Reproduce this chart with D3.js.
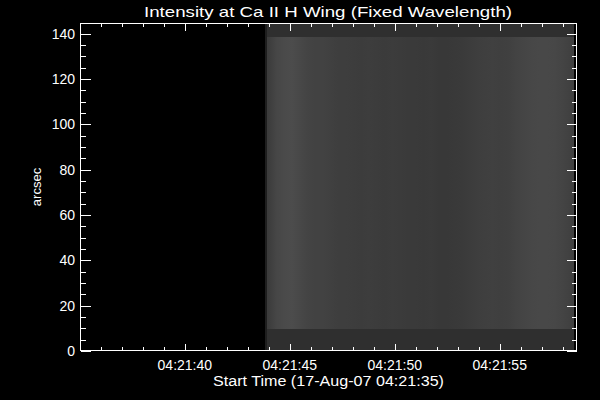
<!DOCTYPE html>
<html>
<head>
<meta charset="utf-8">
<script src="https://cdn.jsdelivr.net/npm/d3@7"></script>
<style>
  html, body { margin: 0; padding: 0; background: #000; }
  svg { display: block; }
  text { font-family: "Liberation Sans", "DejaVu Sans", sans-serif; fill: #fff; }
</style>
</head>
<body>
<svg id="chart" width="600" height="400"></svg>
<script>
// ---- data ----
const title = "Intensity at Ca II H Wing (Fixed Wavelength)";
const xTitle = "Start Time (17-Aug-07 04:21:35)";
const yTitle = "arcsec";
const startTime = "2007-08-17T04:21:35Z";
const xRangeSec = [0.03, 23.66];      // axis extent, seconds after start
const yRange = [0, 144.7];             // arcsec axis extent
const imageSec = [8.80, 23.56];        // time span covered by the raster
const rowEdges = [0, 9.6, 138.5, 144.7];  // arcsec: bottom strip, slit band, top strip
const stripLevel = 47;                 // gray level of the strips outside the slit
// gray level per exposure column inside the slit band
const columnLevels = [60, 70, 74, 76, 72, 68, 66, 66, 64, 62,
                      62, 61, 60, 61, 60, 59, 60, 59, 58, 58,
                      57, 58, 56, 56, 57, 58, 60, 62, 63, 64,
                      63, 64, 67, 69, 71, 72, 72, 71, 68, 64];
const yMajorTicks = [0, 20, 40, 60, 80, 100, 120, 140];
const yMinorStep = 5;

// ---- layout ----
const svg = d3.select("#chart");
const mLeft = 80.5, mRight = 576.5, mTop = 23.5, mBottom = 350.5;
svg.append("rect").attr("width", 600).attr("height", 400).attr("fill", "#000");

const t0 = new Date(startTime);
const sec = s => new Date(t0.getTime() + s * 1000);
const x = d3.scaleUtc().domain([sec(xRangeSec[0]), sec(xRangeSec[1])]).range([mLeft, mRight]);
const y = d3.scaleLinear().domain(yRange).range([mBottom + 0.5, mTop - 0.5]);
const gray = d3.scaleLinear().domain([0, 255]).range(["#000", "#fff"]);

// ---- raster ----
const colBand = d3.scaleBand().domain(d3.range(columnLevels.length))
  .range([x(sec(imageSec[0])), x(sec(imageSec[1]))]);
const [imgX0, imgX1] = colBand.range();
const img = svg.append("g").attr("shape-rendering", "crispEdges");

// smooth shading between exposure columns
const grad = svg.append("defs").append("linearGradient")
  .attr("id", "band").attr("gradientUnits", "userSpaceOnUse")
  .attr("x1", imgX0).attr("x2", imgX1).attr("y1", 0).attr("y2", 0);
grad.selectAll("stop").data(columnLevels).join("stop")
  .attr("offset", (d, i) => (colBand(i) + colBand.bandwidth() / 2 - imgX0) / (imgX1 - imgX0))
  .attr("stop-color", d => gray(d));

[[rowEdges[0], rowEdges[1]], [rowEdges[2], rowEdges[3]]].forEach(([a, b]) => {
  img.append("rect")
    .attr("x", imgX0).attr("width", imgX1 - imgX0)
    .attr("y", y(b)).attr("height", y(a) - y(b))
    .attr("fill", gray(stripLevel));
});
img.append("rect")
  .attr("x", imgX0).attr("width", imgX1 - imgX0)
  .attr("y", y(rowEdges[2]))
  .attr("height", y(rowEdges[1]) - y(rowEdges[2]))
  .attr("fill", "url(#band)");
// darker leading edge of the raster
img.append("rect")
  .attr("x", imgX0).attr("width", 2)
  .attr("y", y(rowEdges[3])).attr("height", y(rowEdges[0]) - y(rowEdges[3]))
  .attr("fill", gray(30));

// ---- axes frame ----
const axes = svg.append("g").attr("stroke", "#fff").attr("stroke-width", 1).attr("fill", "none")
  .attr("shape-rendering", "crispEdges");
axes.append("rect").attr("x", mLeft).attr("y", mTop).attr("width", mRight - mLeft).attr("height", mBottom - mTop);

const xMajor = x.ticks(d3.utcSecond.every(5));
const xMinor = x.ticks(d3.utcSecond.every(1));
xMinor.forEach(d => {
  const px = Math.round(x(d)) + 0.5;
  const len = xMajor.some(m => +m === +d) ? 7 : 3.5;
  axes.append("line").attr("x1", px).attr("x2", px).attr("y1", mBottom).attr("y2", mBottom - len);
  axes.append("line").attr("x1", px).attr("x2", px).attr("y1", mTop).attr("y2", mTop + len);
});
const yMinor = d3.range(yRange[0], yRange[1], yMinorStep);
yMinor.forEach(v => {
  const py = Math.round(y(v)) + 0.5;
  const len = yMajorTicks.includes(v) ? 10 : 5;
  axes.append("line").attr("y1", py).attr("y2", py).attr("x1", mLeft).attr("x2", mLeft + len);
  axes.append("line").attr("y1", py).attr("y2", py).attr("x1", mRight).attr("x2", mRight - len);
});

// ---- labels ----
const fmt = d3.utcFormat("%H:%M:%S");
svg.append("g").selectAll("text").data(xMajor).join("text")
  .attr("x", d => x(d)).attr("y", 370)
  .attr("text-anchor", "middle").attr("font-size", 14)
  .text(d => fmt(d));
svg.append("g").selectAll("text").data(yMajorTicks).join("text")
  .attr("x", 75).attr("y", d => y(d) + 5)
  .attr("text-anchor", "end").attr("font-size", 14)
  .text(d => d);

svg.append("text").attr("x", 328).attr("y", 17).attr("text-anchor", "middle")
  .attr("font-size", 15).attr("textLength", 368).attr("lengthAdjust", "spacingAndGlyphs")
  .text(title);
svg.append("text").attr("x", 328.5).attr("y", 386).attr("text-anchor", "middle")
  .attr("font-size", 14).attr("textLength", 231).attr("lengthAdjust", "spacingAndGlyphs")
  .text(xTitle);
svg.append("text").attr("transform", "translate(41,187) rotate(-90)")
  .attr("text-anchor", "middle").attr("font-size", 13)
  .text(yTitle);
</script>
</body>
</html>
